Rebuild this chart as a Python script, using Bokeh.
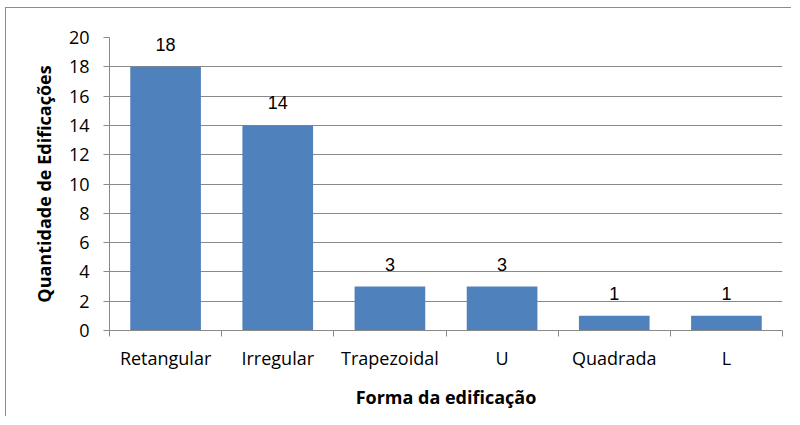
from bokeh.plotting import figure
from bokeh.models import FixedTicker, Range1d, ColumnDataSource
from bokeh.embed import file_html
from bokeh.resources import INLINE
from bokeh.core.properties import value

categories = ["Retangular", "Irregular", "Trapezoidal", "U", "Quadrada", "L"]
counts = [18, 14, 3, 3, 1, 1]
y_ticks = [0, 2, 4, 6, 8, 10, 12, 14, 16, 18, 20]

xs = [i + 0.5 for i in range(len(categories))]
labels = [str(c) for c in counts]
src = ColumnDataSource(dict(x=xs, top=counts, label=labels))

GRID = "#898989"
BAR = "#4f81bd"

p = figure(width=786, height=409, output_backend="svg", toolbar_location=None,
           x_range=Range1d(0, len(categories)), y_range=Range1d(0, 20),
           min_border_left=103, min_border_top=29, min_border_right=10,
           min_border_bottom=87)
p.styles = {"border-left": "1px solid #8c8c8c", "border-top": "1px solid #8c8c8c",
            "margin-left": "5px", "margin-top": "7px"}
p.outline_line_color = None
p.background_fill_color = "white"
p.border_fill_color = "white"

p.vbar(x="x", top="top", width=0.63, bottom=0, source=src,
       fill_color=BAR, line_color=None)

p.text(x="x", y="top", text="label", source=src, text_align="center",
       text_baseline="bottom", y_offset=-16, text_font=value("Liberation Sans"),
       text_font_size="18px", text_color="black")

# grid
p.xgrid.visible = False
p.ygrid.grid_line_color = GRID
p.ygrid.grid_line_width = 1
p.ygrid.ticker = FixedTicker(ticks=y_ticks)

# y axis
p.yaxis.ticker = FixedTicker(ticks=y_ticks)
p.yaxis.axis_line_color = GRID
p.yaxis.major_tick_line_color = GRID
p.yaxis.major_tick_out = 6
p.yaxis.major_tick_in = 0
p.yaxis.minor_tick_line_color = None
p.yaxis.major_label_standoff = 14
p.yaxis.major_label_text_font = "Open Sans"
p.yaxis.major_label_text_font_size = "18px"
p.yaxis.major_label_text_color = "black"
p.yaxis.axis_label = "Quantidade de Edificações"
p.yaxis.axis_label_text_font = "Open Sans"
p.yaxis.axis_label_text_font_style = "bold"
p.yaxis.axis_label_text_font_size = "18px"
p.yaxis.axis_label_text_color = "black"
p.yaxis.axis_label_standoff = 10

# x axis
p.xaxis.ticker = FixedTicker(ticks=xs, minor_ticks=list(range(len(categories) + 1)))
p.xaxis.major_label_overrides = {x: c for x, c in zip(xs, categories)}
p.xaxis.axis_line_color = GRID
p.xaxis.major_tick_line_color = None
p.xaxis.major_tick_out = 6
p.xaxis.minor_tick_line_color = GRID
p.xaxis.minor_tick_out = 6
p.xaxis.minor_tick_in = 0
p.xaxis.major_label_standoff = 9
p.xaxis.major_label_text_font = "Open Sans"
p.xaxis.major_label_text_font_size = "18px"
p.xaxis.major_label_text_color = "black"
p.xaxis.axis_label = "Forma da edificação"
p.xaxis.axis_label_text_font = "Open Sans"
p.xaxis.axis_label_text_font_style = "bold"
p.xaxis.axis_label_text_font_size = "18px"
p.xaxis.axis_label_text_color = "black"
p.xaxis.axis_label_standoff = 12

open("out.html", "w").write(file_html(p, INLINE))
